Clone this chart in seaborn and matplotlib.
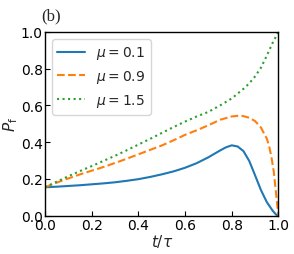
import matplotlib
matplotlib.use("Agg")
import matplotlib.pyplot as plt
import seaborn as sns
import pandas as pd

t_blue = [0, 0.05, 0.1, 0.15, 0.2, 0.25, 0.3, 0.35, 0.4, 0.45, 0.5, 0.55, 0.6, 0.65, 0.7,
          0.75, 0.775, 0.8, 0.825, 0.85, 0.875, 0.9, 0.925, 0.95, 0.975, 0.99, 1.0]
p_blue = [0.155, 0.158, 0.162, 0.166, 0.171, 0.176, 0.182, 0.19, 0.199, 0.211, 0.225, 0.241,
          0.261, 0.286, 0.318, 0.355, 0.372, 0.383, 0.377, 0.352, 0.298, 0.22, 0.14, 0.075,
          0.028, 0.006, 0.0]

t_orange = [0, 0.05, 0.1, 0.15, 0.2, 0.25, 0.3, 0.35, 0.4, 0.45, 0.5, 0.55, 0.6, 0.65, 0.7,
            0.75, 0.8, 0.83, 0.85, 0.875, 0.9, 0.925, 0.95, 0.96, 0.97, 0.98, 0.99, 1.0]
p_orange = [0.155, 0.18, 0.203, 0.225, 0.245, 0.265, 0.287, 0.31, 0.334, 0.358, 0.382, 0.41,
            0.44, 0.465, 0.492, 0.522, 0.54, 0.544, 0.542, 0.533, 0.515, 0.48, 0.42, 0.38,
            0.32, 0.24, 0.12, 0.0]

t_green = [0, 0.05, 0.1, 0.15, 0.2, 0.25, 0.3, 0.35, 0.4, 0.45, 0.5, 0.55, 0.6, 0.65, 0.7,
           0.75, 0.8, 0.85, 0.875, 0.9, 0.925, 0.95, 0.975, 1.0]
p_green = [0.155, 0.185, 0.215, 0.243, 0.27, 0.298, 0.326, 0.356, 0.387, 0.418, 0.45, 0.482,
           0.512, 0.54, 0.565, 0.6, 0.638, 0.69, 0.72, 0.758, 0.805, 0.87, 0.94, 1.0]

labels = [r"$\mu = 0.1$", r"$\mu = 0.9$", r"$\mu = 1.5$"]
colors = ["#1f77b4", "#ff7f0e", "#2ca02c"]
styles = ["-", "--", ":"]

sns.set_style("ticks")
plt.rcParams["font.family"] = ["DejaVu Sans"]

fig = plt.figure(figsize=(2.94, 2.55), dpi=100)
ax = fig.add_axes([0.153, 0.150, 0.794, 0.721])

series = [(t_blue, p_blue), (t_orange, p_orange), (t_green, p_green)]
for (t, p), lab, c, ls in zip(series, labels, colors, styles):
    df = pd.DataFrame({"t": t, "P": p})
    sns.lineplot(data=df, x="t", y="P", ax=ax, color=c, linestyle=ls, linewidth=1.5,
                 label=lab, estimator=None, sort=False)

ax.set_xlim(0, 1)
ax.set_ylim(0, 1)
ax.set_xticks([0, 0.2, 0.4, 0.6, 0.8, 1.0])
ax.set_yticks([0, 0.2, 0.4, 0.6, 0.8, 1.0])
ax.tick_params(direction="in", labelsize=10, length=3.5, width=0.8, colors="black", pad=1.5)
for s in ax.spines.values():
    s.set_color("black")
    s.set_linewidth(1.0)
ax.set_xlabel(r"$t/\tau$", fontsize=11, labelpad=0)
ax.set_ylabel(r"$P_\mathrm{f}$", fontsize=11)
ax.yaxis.set_label_coords(-0.105, 0.5)
ax.legend(loc="upper left", fontsize=10, frameon=True, handlelength=2.0,
          borderaxespad=0.5)
fig.text(0.173, 0.935, "(b)", fontsize=12, family="Liberation Serif", ha="center", va="center")

fig.savefig("out.png", dpi=100)
